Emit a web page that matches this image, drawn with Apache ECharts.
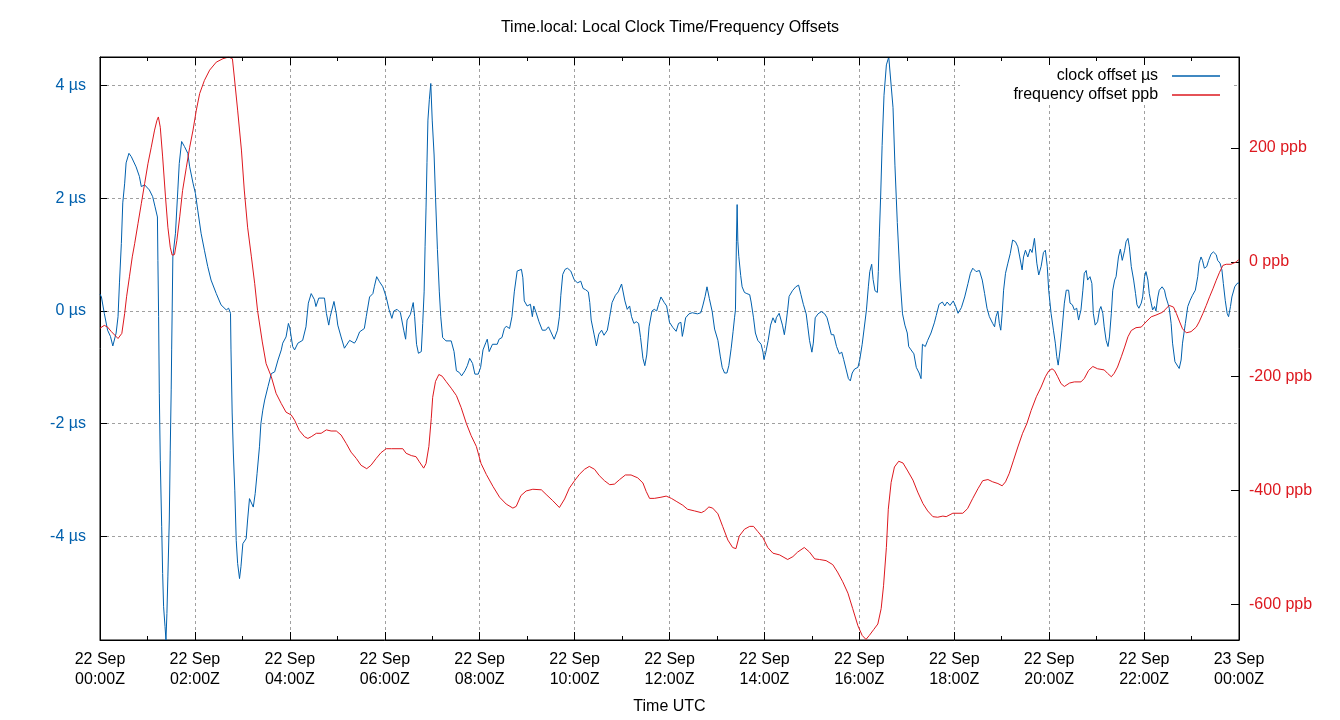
<!DOCTYPE html>
<html>
<head>
<meta charset="utf-8">
<script src="https://cdn.jsdelivr.net/npm/echarts@6/dist/echarts.min.js"></script>
<style>
html,body{margin:0;padding:0;background:#fff;}
#chart{width:1340px;height:720px;}
</style>
</head>
<body>
<div id="chart"></div>
<script>
// [hours since 22 Sep 00:00Z, clock offset in µs]
const clockOffsetUs = [[0.00,0.3],[0.03,0.25],[0.07,0.25],[0.09,-0.04],[0.16,-0.34],[0.22,-0.45],[0.27,-0.62],[0.34,-0.39],[0.38,-0.1],[0.41,0.5],[0.45,1.2],[0.48,1.92],[0.52,2.27],[0.55,2.63],[0.61,2.8],[0.66,2.74],[0.76,2.56],[0.83,2.39],[0.87,2.21],[0.94,2.24],[0.97,2.27],[1.04,2.15],[1.11,2.03],[1.16,1.85],[1.21,1.67],[1.22,0.9],[1.235,-0.1],[1.25,-1.46],[1.27,-2.65],[1.30,-3.83],[1.32,-4.66],[1.34,-5.25],[1.37,-5.6],[1.39,-5.84],[1.41,-5.37],[1.43,-4.72],[1.46,-3.71],[1.48,-2.47],[1.50,-1.4],[1.51,-0.69],[1.535,0.96],[1.59,1.38],[1.64,2.15],[1.67,2.62],[1.72,3.01],[1.78,2.92],[1.85,2.8],[1.89,2.56],[1.96,2.27],[2.01,2.09],[2.06,1.79],[2.13,1.38],[2.20,1.08],[2.27,0.79],[2.34,0.55],[2.45,0.31],[2.55,0.11],[2.66,0.02],[2.71,0.05],[2.75,-0.04],[2.76,-0.69],[2.785,-1.81],[2.81,-2.52],[2.84,-3.18],[2.87,-4.07],[2.90,-4.48],[2.94,-4.75],[2.97,-4.54],[3.01,-4.13],[3.08,-4.04],[3.11,-3.71],[3.15,-3.33],[3.18,-3.36],[3.23,-3.48],[3.27,-3.24],[3.31,-2.88],[3.36,-2.41],[3.39,-2.0],[3.43,-1.76],[3.47,-1.58],[3.54,-1.34],[3.61,-1.11],[3.68,-1.08],[3.75,-0.87],[3.82,-0.69],[3.85,-0.57],[3.92,-0.46],[3.97,-0.22],[4.00,-0.3],[4.06,-0.63],[4.10,-0.69],[4.17,-0.57],[4.27,-0.52],[4.34,-0.28],[4.39,0.14],[4.45,0.31],[4.52,0.2],[4.55,0.08],[4.61,0.23],[4.73,0.23],[4.77,-0.04],[4.82,-0.25],[4.85,-0.1],[4.93,0.17],[4.98,-0.05],[5.01,-0.25],[5.08,-0.46],[5.15,-0.66],[5.19,-0.66],[5.26,-0.52],[5.36,-0.57],[5.40,-0.52],[5.47,-0.37],[5.57,-0.31],[5.61,-0.1],[5.68,0.25],[5.75,0.31],[5.78,0.43],[5.83,0.61],[5.89,0.52],[5.96,0.43],[6.03,0.25],[6.09,0.03],[6.15,-0.13],[6.19,0],[6.26,0.03],[6.33,-0.03],[6.40,-0.34],[6.44,-0.5],[6.47,-0.16],[6.54,-0.06],[6.60,0.15],[6.63,-0.1],[6.67,-0.59],[6.71,-0.75],[6.77,-0.72],[6.80,-0.22],[6.83,0.34],[6.85,1.15],[6.87,1.83],[6.89,2.64],[6.91,3.39],[6.94,3.76],[6.97,4.04],[7.00,3.39],[7.04,2.77],[7.07,2.02],[7.11,1.09],[7.15,0.34],[7.18,-0.1],[7.22,-0.47],[7.29,-0.53],[7.40,-0.53],[7.44,-0.5],[7.46,-0.72],[7.51,-1.06],[7.57,-1.09],[7.62,-1.15],[7.69,-1.06],[7.74,-0.97],[7.79,-0.84],[7.85,-0.93],[7.90,-1.12],[7.97,-1.12],[8.02,-1.0],[8.07,-0.69],[8.13,-0.56],[8.16,-0.5],[8.20,-0.72],[8.27,-0.59],[8.37,-0.59],[8.41,-0.5],[8.47,-0.47],[8.52,-0.31],[8.56,-0.27],[8.63,-0.31],[8.68,-0.1],[8.73,0.34],[8.79,0.71],[8.83,0.69],[8.88,0.74],[8.91,0.59],[8.94,0.18],[9.00,0.09],[9.07,0.12],[9.11,-0.1],[9.14,0.09],[9.19,-0.03],[9.25,-0.19],[9.32,-0.34],[9.39,-0.34],[9.45,-0.28],[9.50,-0.37],[9.57,-0.5],[9.64,-0.34],[9.68,-0.1],[9.71,0.28],[9.75,0.65],[9.80,0.74],[9.85,0.76],[9.92,0.71],[9.99,0.56],[10.06,0.5],[10.13,0.53],[10.18,0.4],[10.23,0.38],[10.29,0.34],[10.32,0.15],[10.35,-0.16],[10.41,-0.41],[10.46,-0.62],[10.51,-0.41],[10.57,-0.34],[10.62,-0.43],[10.69,-0.34],[10.74,-0.1],[10.79,0.15],[10.86,0.28],[10.92,0.34],[10.99,0.48],[11.03,0.5],[11.06,0.18],[11.11,0.03],[11.16,0.09],[11.20,-0.1],[11.25,-0.22],[11.30,-0.19],[11.35,-0.22],[11.39,-0.47],[11.44,-0.84],[11.48,-0.97],[11.52,-0.78],[11.57,-0.28],[11.63,0],[11.68,0.03],[11.73,0],[11.77,0.12],[11.82,0.25],[11.89,0.15],[11.94,0.09],[12.00,-0.2],[12.07,-0.29],[12.14,-0.36],[12.19,-0.22],[12.24,-0.2],[12.27,-0.45],[12.30,-0.32],[12.34,-0.12],[12.41,-0.05],[12.48,-0.03],[12.59,-0.05],[12.66,-0.03],[12.70,0.09],[12.75,0.26],[12.79,0.43],[12.84,0.22],[12.90,-0.01],[12.95,-0.32],[13.02,-0.52],[13.07,-0.8],[13.11,-1.0],[13.16,-1.1],[13.21,-1.1],[13.25,-0.97],[13.30,-0.66],[13.34,-0.36],[13.37,-0.12],[13.39,0.02],[13.41,1.24],[13.425,1.89],[13.44,1.24],[13.46,0.97],[13.50,0.63],[13.53,0.43],[13.58,0.33],[13.63,0.31],[13.69,0.29],[13.72,0.16],[13.77,-0.12],[13.81,-0.39],[13.86,-0.52],[13.89,-0.5],[13.93,-0.59],[13.97,-0.73],[13.99,-0.86],[14.03,-0.73],[14.08,-0.52],[14.13,-0.25],[14.18,-0.12],[14.23,-0.21],[14.25,-0.12],[14.31,-0.04],[14.35,-0.05],[14.38,-0.25],[14.42,-0.42],[14.45,-0.25],[14.49,0.02],[14.52,0.26],[14.59,0.36],[14.66,0.43],[14.72,0.46],[14.77,0.29],[14.82,0.12],[14.88,-0.05],[14.91,-0.25],[14.95,-0.52],[15.00,-0.73],[15.03,-0.57],[15.07,-0.12],[15.13,-0.05],[15.20,-0.01],[15.27,-0.05],[15.32,-0.12],[15.36,-0.25],[15.41,-0.42],[15.46,-0.42],[15.52,-0.63],[15.58,-0.76],[15.63,-0.73],[15.67,-0.86],[15.72,-1.03],[15.77,-1.2],[15.81,-1.24],[15.85,-1.1],[15.90,-1.03],[15.97,-1.0],[16.01,-0.86],[16.06,-0.59],[16.10,-0.32],[16.15,0.02],[16.19,0.43],[16.22,0.7],[16.26,0.83],[16.29,0.56],[16.33,0.36],[16.38,0.33],[16.40,0.7],[16.42,1.31],[16.45,2.06],[16.48,2.94],[16.52,3.83],[16.57,4.37],[16.62,4.51],[16.66,4.5],[16.71,3.61],[16.75,2.59],[16.80,1.57],[16.86,0.55],[16.91,-0.05],[16.96,-0.25],[17.01,-0.39],[17.04,-0.63],[17.09,-0.69],[17.15,-0.76],[17.20,-1.0],[17.26,-1.1],[17.30,-1.2],[17.33,-0.59],[17.39,-0.63],[17.44,-0.52],[17.51,-0.39],[17.58,-0.21],[17.62,-0.08],[17.68,0.12],[17.75,0.16],[17.80,0.09],[17.85,0.16],[17.91,0.1],[17.98,0.18],[18.03,0.08],[18.08,-0.04],[18.15,0.06],[18.22,0.25],[18.29,0.49],[18.34,0.67],[18.39,0.76],[18.46,0.7],[18.53,0.72],[18.59,0.55],[18.64,0.31],[18.69,0.05],[18.74,-0.1],[18.81,-0.22],[18.85,-0.28],[18.88,-0.1],[18.92,0],[18.95,-0.22],[18.98,-0.34],[19.01,-0.04],[19.04,0.37],[19.08,0.67],[19.13,0.85],[19.18,1.02],[19.23,1.26],[19.29,1.23],[19.34,1.14],[19.38,0.96],[19.43,0.73],[19.46,0.96],[19.50,1.08],[19.55,0.96],[19.60,1.1],[19.64,1.04],[19.69,1.29],[19.74,0.85],[19.78,0.64],[19.83,0.79],[19.88,1.04],[19.92,1.08],[19.96,0.79],[19.99,0.37],[20.04,-0.04],[20.09,-0.34],[20.13,-0.57],[20.16,-0.81],[20.19,-0.96],[20.23,-0.69],[20.27,-0.34],[20.32,0.14],[20.36,0.37],[20.41,0.37],[20.44,0.14],[20.49,0.11],[20.53,0.02],[20.58,0.05],[20.62,-0.16],[20.67,0.02],[20.71,0.37],[20.74,0.67],[20.78,0.72],[20.81,0.55],[20.86,0.61],[20.90,0.49],[20.93,-0.04],[20.97,-0.25],[21.02,-0.19],[21.06,0.02],[21.09,0.08],[21.13,-0.04],[21.16,-0.28],[21.20,-0.52],[21.24,-0.63],[21.27,-0.46],[21.31,-0.04],[21.34,0.37],[21.38,0.55],[21.41,0.61],[21.46,0.96],[21.50,1.1],[21.54,0.9],[21.59,1.08],[21.62,1.23],[21.66,1.29],[21.69,1.14],[21.73,0.79],[21.78,0.55],[21.82,0.31],[21.85,0.11],[21.89,0.05],[21.94,0.14],[21.97,0.25],[22.01,0.61],[22.04,0.7],[22.08,0.55],[22.11,0.31],[22.15,0.14],[22.18,0.02],[22.22,0.08],[22.25,0],[22.29,0.25],[22.32,0.37],[22.38,0.43],[22.43,0.37],[22.46,0.25],[22.50,0.14],[22.53,0.05],[22.57,-0.22],[22.60,-0.57],[22.65,-0.9],[22.69,-0.93],[22.74,-1.02],[22.78,-0.87],[22.81,-0.57],[22.87,-0.22],[22.92,0.08],[22.97,0.19],[23.02,0.28],[23.08,0.37],[23.13,0.61],[23.16,0.85],[23.20,0.96],[23.23,0.9],[23.27,0.76],[23.32,0.79],[23.36,0.9],[23.41,1.01],[23.46,1.05],[23.52,1.0],[23.55,0.9],[23.60,0.85],[23.64,0.73],[23.67,0.49],[23.71,0.19],[23.75,-0.04],[23.78,-0.1],[23.82,0.08],[23.85,0.25],[23.91,0.43],[23.96,0.49],[24.00,0.5]];

// [hours since 22 Sep 00:00Z, frequency offset in ppb]
const freqOffsetPpb = [[0.00,-116],[0.03,-114],[0.09,-111],[0.16,-114],[0.24,-122],[0.31,-128],[0.38,-134],[0.41,-136],[0.46,-125],[0.52,-90],[0.56,-61],[0.62,-26],[0.68,9],[0.73,32],[0.80,67],[0.87,102],[0.94,137],[1.01,172],[1.08,201],[1.15,231],[1.20,248],[1.23,254],[1.27,236],[1.32,184],[1.38,114],[1.43,61],[1.48,26],[1.52,12],[1.57,13],[1.62,38],[1.68,79],[1.74,125],[1.82,166],[1.89,201],[1.96,231],[2.03,266],[2.10,295],[2.20,318],[2.31,336],[2.45,350],[2.59,356],[2.71,359],[2.79,356],[2.83,324],[2.90,266],[2.98,196],[3.04,126],[3.11,61],[3.19,9],[3.26,-38],[3.32,-85],[3.42,-140],[3.50,-178],[3.61,-201],[3.71,-230],[3.82,-248],[3.92,-263],[4.03,-268],[4.10,-277],[4.20,-295],[4.31,-306],[4.38,-309],[4.45,-306],[4.56,-300],[4.66,-300],[4.77,-294],[4.87,-296],[4.98,-296],[5.08,-303],[5.19,-318],[5.29,-333],[5.40,-344],[5.50,-356],[5.62,-362],[5.71,-356],[5.82,-344],[5.92,-334],[6.03,-327],[6.14,-327],[6.38,-327],[6.45,-335],[6.56,-339],[6.66,-341],[6.73,-350],[6.82,-361],[6.87,-353],[6.93,-323],[6.98,-274],[7.01,-237],[7.07,-209],[7.14,-197],[7.21,-200],[7.29,-209],[7.40,-221],[7.51,-234],[7.61,-255],[7.72,-283],[7.82,-304],[7.93,-323],[8.03,-353],[8.14,-372],[8.28,-393],[8.42,-412],[8.56,-424],[8.70,-431],[8.77,-428],[8.87,-409],[8.98,-401],[9.12,-398],[9.30,-399],[9.40,-407],[9.54,-418],[9.68,-430],[9.79,-415],[9.89,-396],[10.00,-383],[10.10,-372],[10.21,-363],[10.31,-358],[10.42,-363],[10.52,-374],[10.63,-383],[10.74,-390],[10.84,-389],[10.95,-381],[11.07,-373],[11.19,-373],[11.33,-378],[11.44,-387],[11.51,-402],[11.58,-414],[11.68,-414],[11.82,-412],[11.93,-410],[12.04,-414],[12.14,-419],[12.28,-426],[12.38,-433],[12.53,-436],[12.67,-439],[12.74,-436],[12.83,-429],[12.91,-431],[13.02,-441],[13.12,-463],[13.23,-487],[13.33,-500],[13.40,-502],[13.47,-480],[13.58,-468],[13.69,-463],[13.77,-463],[13.86,-472],[13.97,-483],[14.07,-500],[14.18,-510],[14.32,-513],[14.49,-521],[14.60,-516],[14.70,-508],[14.84,-500],[14.95,-508],[15.06,-520],[15.16,-521],[15.30,-523],[15.44,-530],[15.54,-543],[15.65,-560],[15.76,-580],[15.86,-607],[15.97,-637],[16.06,-654],[16.14,-661],[16.21,-654],[16.30,-644],[16.39,-634],[16.46,-607],[16.51,-567],[16.57,-500],[16.61,-433],[16.67,-386],[16.74,-359],[16.83,-349],[16.92,-352],[17.02,-366],[17.13,-382],[17.23,-403],[17.34,-423],[17.44,-436],[17.55,-446],[17.65,-447],[17.76,-445],[17.83,-446],[17.97,-440],[18.18,-440],[18.28,-432],[18.39,-414],[18.50,-397],[18.60,-383],[18.71,-381],[18.81,-385],[18.92,-388],[19.01,-392],[19.08,-385],[19.16,-370],[19.25,-347],[19.34,-324],[19.44,-300],[19.53,-283],[19.62,-260],[19.73,-236],[19.83,-219],[19.92,-201],[19.99,-191],[20.06,-187],[20.11,-190],[20.18,-201],[20.25,-213],[20.32,-218],[20.43,-212],[20.53,-210],[20.67,-210],[20.74,-204],[20.83,-190],[20.92,-183],[21.02,-187],[21.16,-189],[21.23,-195],[21.31,-201],[21.37,-195],[21.44,-184],[21.52,-166],[21.59,-149],[21.66,-131],[21.73,-120],[21.83,-115],[21.94,-114],[22.04,-105],[22.15,-96],[22.25,-93],[22.39,-88],[22.53,-76],[22.62,-79],[22.68,-90],[22.75,-105],[22.81,-117],[22.89,-124],[22.99,-122],[23.10,-114],[23.16,-105],[23.24,-90],[23.31,-76],[23.38,-61],[23.45,-47],[23.52,-32],[23.59,-18],[23.66,-6],[23.73,-4],[23.83,-4],[23.94,0],[23.99,4]];

const seriesNames = ['clock offset µs', 'frequency offset ppb'];
const chartTitle = 'Time.local: Local Clock Time/Frequency Offsets';
const xAxisName = 'Time UTC';

const BLUE = '#0060ad';
const RED = '#dd181f';
const FONT = '"Liberation Sans", Arial, sans-serif';

function xLabel(h) {
  const day = h >= 24 ? '23 Sep' : '22 Sep';
  const hh = h >= 24 ? 0 : h;
  return day + '\n' + String(hh).padStart(2, '0') + ':00Z';
}

const chart = echarts.init(document.getElementById('chart'), null, {renderer: 'canvas'});
const gridDash = {color: '#a0a0a0', width: 1, type: [3, 3]};
const blackLine = {show: true, onZero: false, lineStyle: {color: '#000', width: 1}};

chart.setOption({
  animation: false,
  backgroundColor: '#fff',
  textStyle: {fontFamily: FONT},
  title: {
    text: chartTitle, left: 'center', top: 20, padding: 0,
    textStyle: {fontFamily: FONT, fontSize: 16, fontWeight: 'normal', color: '#000'}
  },
  graphic: [{
    type: 'rect', left: 960, top: 58, z: 3,
    shape: {width: 272, height: 44},
    style: {fill: '#fff'}
  }],
  legend: [
    {
      data: [{name: seriesNames[0], icon: 'rect'}], right: 120, top: 68, padding: 0, align: 'right',
      itemWidth: 48, itemHeight: 1.3, z: 6,
      formatter: n => n + '  ',
      textStyle: {fontFamily: FONT, fontSize: 16, color: '#000'}
    },
    {
      data: [{name: seriesNames[1], icon: 'rect'}], right: 120, top: 87, padding: 0, align: 'right',
      itemWidth: 48, itemHeight: 1.3, z: 6,
      formatter: n => n + '  ',
      textStyle: {fontFamily: FONT, fontSize: 16, color: '#000'}
    }
  ],
  grid: {left: 100, right: 101, top: 57, bottom: 80, show: true, borderColor: '#000', borderWidth: 1, backgroundColor: 'transparent'},
  xAxis: [
    {
      type: 'value', min: 0, max: 24, interval: 2, position: 'bottom',
      name: xAxisName, nameLocation: 'middle', nameGap: 59,
      nameTextStyle: {fontFamily: FONT, fontSize: 16, color: '#000'},
      axisLine: blackLine,
      axisTick: {show: true, inside: true, length: 8, lineStyle: {color: '#000'}},
      minorTick: {show: true, splitNumber: 2, length: 4, lineStyle: {color: '#000'}},
      axisLabel: {formatter: xLabel, fontFamily: FONT, fontSize: 16, color: '#000', lineHeight: 19.5, margin: 10},
      splitLine: {show: true, lineStyle: gridDash}
    },
    {
      type: 'value', min: 0, max: 24, interval: 2, position: 'top', z: 5,
      axisLine: blackLine,
      axisTick: {show: true, inside: true, length: 8, lineStyle: {color: '#000'}},
      minorTick: {show: true, splitNumber: 2, length: 4, lineStyle: {color: '#000'}},
      axisLabel: {show: false},
      splitLine: {show: false}
    }
  ],
  yAxis: [
    {
      type: 'value', min: -5.84, max: 4.51, splitNumber: 5, position: 'left',
      axisLine: blackLine,
      axisTick: {show: true, inside: true, length: 7, lineStyle: {color: '#000'}},
      axisLabel: {
        formatter: v => v + ' µs', showMinLabel: false, showMaxLabel: false,
        fontFamily: FONT, fontSize: 16, color: BLUE, margin: 14
      },
      splitLine: {show: true, lineStyle: gridDash}
    },
    {
      type: 'value', min: -662, max: 359, splitNumber: 5, position: 'right',
      axisLine: blackLine,
      axisTick: {show: true, inside: true, length: 8, lineStyle: {color: '#000'}},
      axisLabel: {
        formatter: v => v + ' ppb', showMinLabel: false, showMaxLabel: false,
        fontFamily: FONT, fontSize: 16, color: RED, margin: 10
      },
      splitLine: {show: false}
    }
  ],
  series: [
    {
      name: seriesNames[0], type: 'line', xAxisIndex: 0, yAxisIndex: 0,
      data: clockOffsetUs, symbol: 'none', showSymbol: false,
      lineStyle: {color: BLUE, width: 1}, itemStyle: {color: BLUE}, z: 2
    },
    {
      name: seriesNames[1], type: 'line', xAxisIndex: 0, yAxisIndex: 1,
      data: freqOffsetPpb, symbol: 'none', showSymbol: false,
      lineStyle: {color: RED, width: 1}, itemStyle: {color: RED}, z: 2
    }
  ]
});
</script>
</body>
</html>
